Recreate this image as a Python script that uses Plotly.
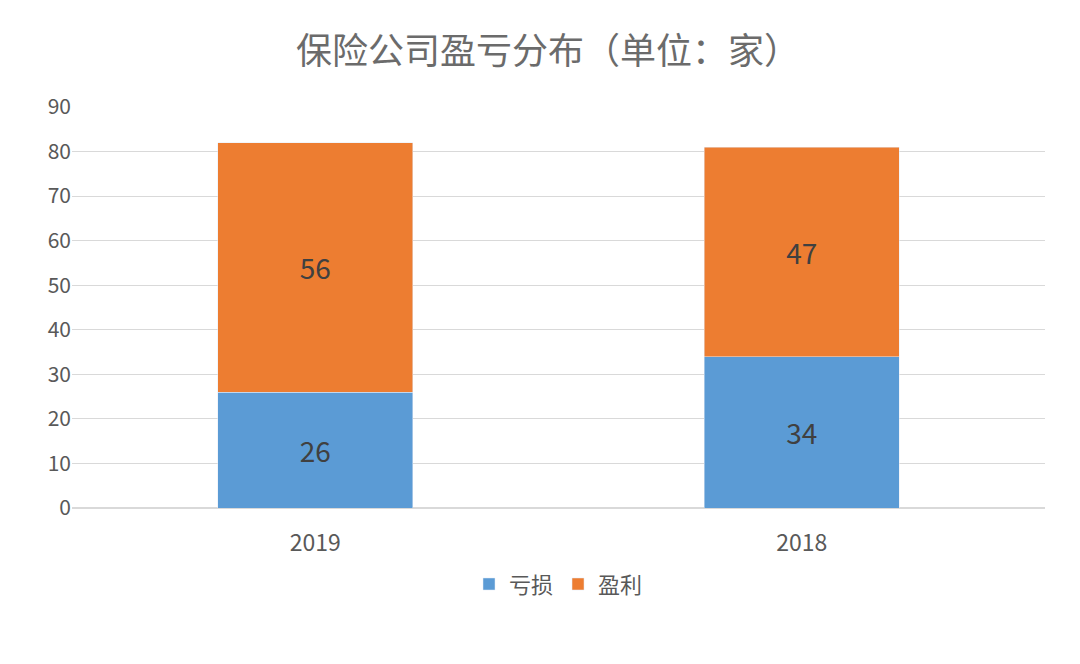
import plotly.graph_objects as go

years = ["2019", "2018"]
loss = [26, 34]
profit = [56, 47]

FONT = "Noto Sans CJK SC"

fig = go.Figure()
fig.add_bar(x=years, y=loss, name="亏损", marker_color="#5B9BD5",
            text=loss, textposition="inside", insidetextanchor="middle",
            textfont=dict(size=28, color="#404040"))
fig.add_bar(x=years, y=profit, name="盈利", marker_color="#ED7D31",
            text=profit, textposition="inside", insidetextanchor="middle",
            textfont=dict(size=28, color="#404040"))

fig.update_layout(
    barmode="stack", bargap=0.6,
    width=1080, height=664,
    margin=dict(l=64, r=43, t=99, b=164),
    paper_bgcolor="white", plot_bgcolor="white",
    font=dict(family=FONT, color="#595959", size=21),
    title=dict(text="保险公司盈亏分布（单位：家）", x=0.5, xanchor="center",
               y=0.935, yanchor="middle", font=dict(size=36, color="#6b6b6b")),
    legend=dict(orientation="h", x=0.5, xanchor="center", y=-0.19, yanchor="middle",
                traceorder="normal", font=dict(size=22, color="#595959")),
    uniformtext=dict(mode="show", minsize=10),
)
fig.update_yaxes(range=[0, 90], dtick=10, gridcolor="#D9D9D9", zeroline=True,
                 zerolinecolor="#D9D9D9", ticks="", tickfont=dict(size=21))
fig.update_xaxes(showline=True, linecolor="#D9D9D9", tickfont=dict(size=23),
                 ticks="outside", ticklen=14, tickcolor="white")

fig.write_html("out.html")
